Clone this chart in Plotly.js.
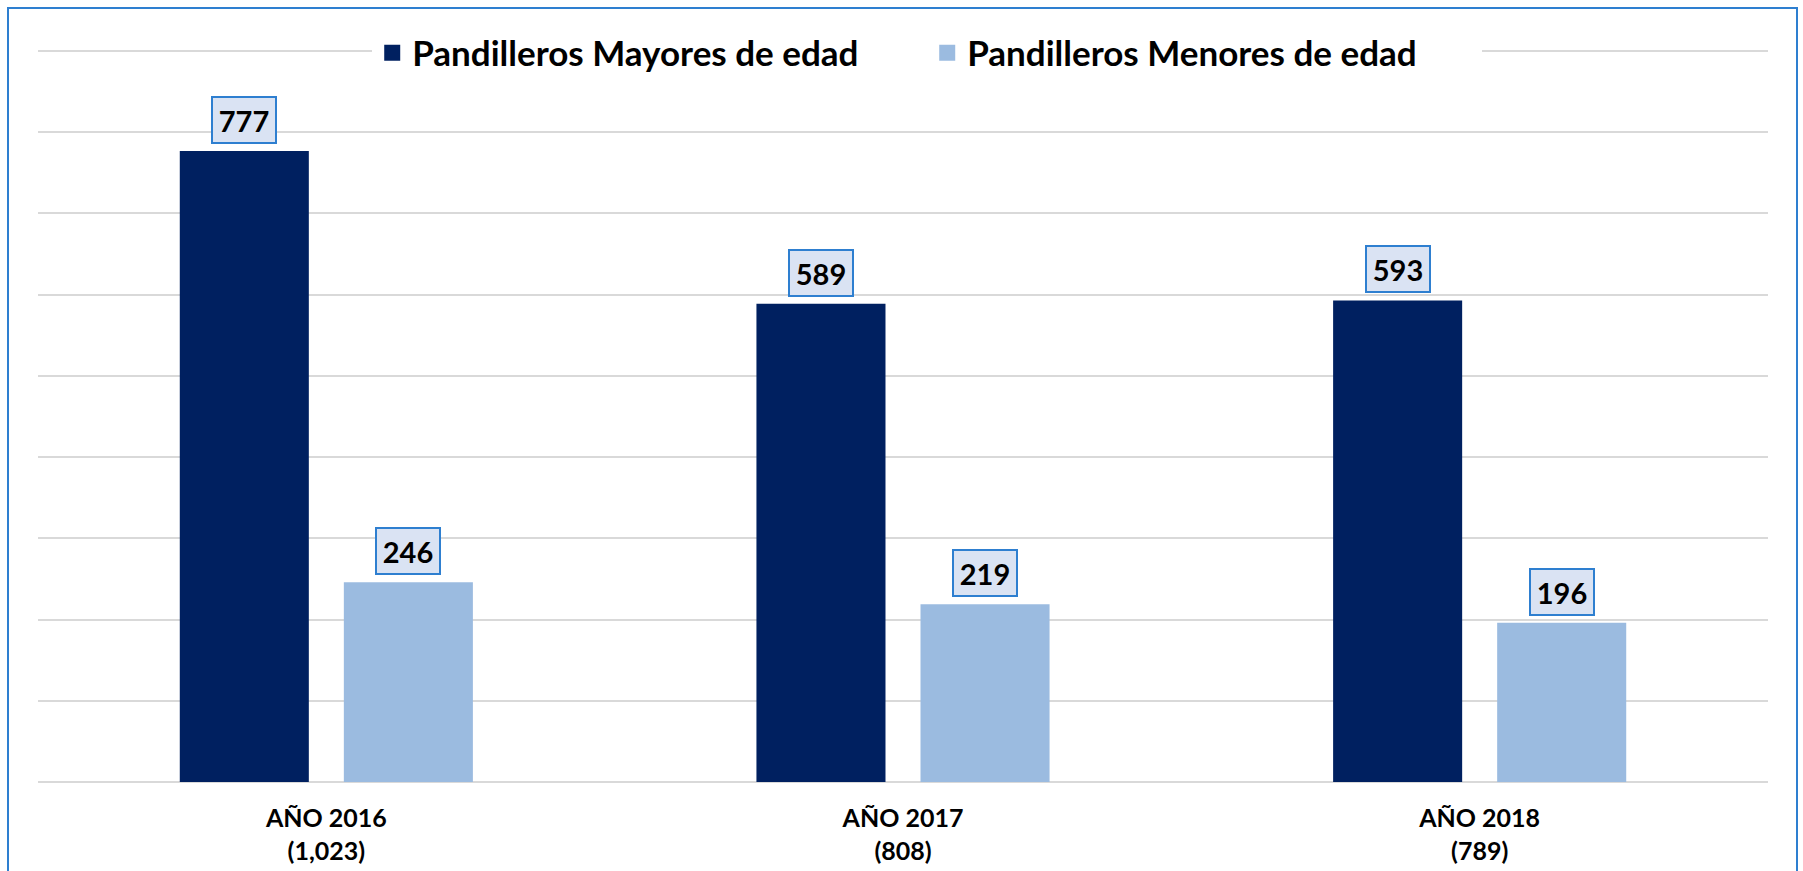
<!DOCTYPE html>
<html><head><meta charset="utf-8">
<script src="https://cdn.plot.ly/plotly-3.0.1.min.js"></script>
<style>
html,body{margin:0;padding:0;background:#fff;overflow:hidden}
#chart{width:1803px;height:871px}
#frame{position:absolute;left:7px;top:7px;width:1787px;height:900px;border:2px solid #2e7fd0;pointer-events:none}
</style></head><body>
<div id="chart"></div><div id="frame"></div>
<script>
const years = ['AÑO 2016', 'AÑO 2017', 'AÑO 2018'];
const totals = ['(1,023)', '(808)', '(789)'];
const mayores = [777, 589, 593];
const menores = [246, 219, 196];
const seriesNames = ['Pandilleros Mayores de edad', 'Pandilleros Menores de edad'];
const seriesValues = [mayores, menores];
const colors = ['#002060', '#9bbbe0'];

const categories = years.map((y, i) => y + '<br>' + totals[i]);
const FONT = 'Lato, "Open Sans", sans-serif';
const bargap = 0.431, bargroupgap = 0.2134;
const slot = (1 - bargap) / seriesValues.length;

const traces = [];
seriesValues.forEach((vals, i) => {
  traces.push({type: 'bar', x: categories, y: vals, name: seriesNames[i],
    marker: {color: colors[i]}, showlegend: false, hoverinfo: 'skip'});
});
seriesValues.forEach((vals, i) => {
  traces.push({type: 'scatter', mode: 'markers', x: [null], y: [null], name: seriesNames[i],
    marker: {color: colors[i], symbol: 'square', size: 20}, showlegend: true, hoverinfo: 'skip'});
});

const annotations = [];
seriesValues.forEach((vals, i) => {
  const off = (i - (seriesValues.length - 1) / 2) * slot;
  vals.forEach((v, j) => {
    annotations.push({x: j + off, y: v, xref: 'x', yref: 'y', text: String(v), showarrow: false,
      yanchor: 'bottom', yshift: 7, bgcolor: '#dae3f3', bordercolor: '#2e7fd0', borderwidth: 2,
      borderpad: 3, width: 56, height: 38, font: {family: FONT, size: 29, color: '#000', weight: 700}});
  });
});

const layout = {
  width: 1803, height: 871,
  margin: {l: 38, r: 35, t: 47, b: 89, pad: 0},
  paper_bgcolor: '#fff', plot_bgcolor: '#fff',
  barmode: 'group', bargap: bargap, bargroupgap: bargroupgap,
  showlegend: true,
  legend: {orientation: 'h', x: 0.514, xanchor: 'center', y: 0.992, yanchor: 'middle',
    bgcolor: '#fff', font: {family: FONT, size: 35, color: '#000', weight: 700},
    itemwidth: 30, entrywidth: 510, entrywidthmode: 'pixels'},
  xaxis: {type: 'category', showgrid: false, zeroline: false, showline: false, ticks: '',
    ticklabelstandoff: 19,
    tickfont: {family: FONT, size: 25, color: '#000', weight: 700}, fixedrange: true},
  yaxis: {range: [0, 905], dtick: 100, tick0: 0, showticklabels: false, showgrid: true,
    gridcolor: '#d9d9d9', gridwidth: 2, zeroline: true, zerolinecolor: '#d9d9d9', zerolinewidth: 2,
    ticks: '', fixedrange: true},
  annotations: annotations
};

Plotly.newPlot('chart', traces, layout, {displayModeBar: false, staticPlot: true});
</script>
</body></html>
